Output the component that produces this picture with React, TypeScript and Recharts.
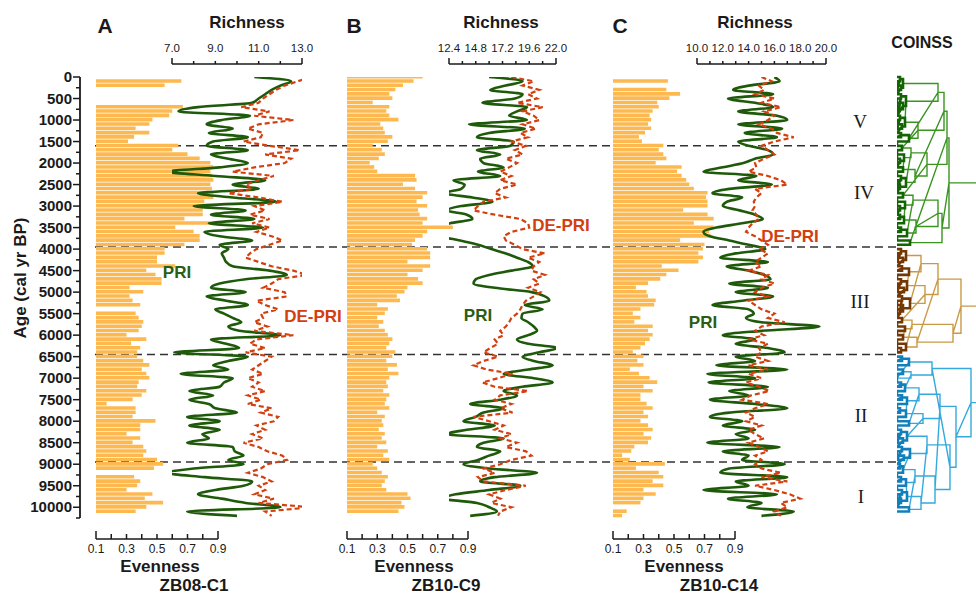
import React from 'react';
import { ComposedChart, Bar, Line, XAxis, YAxis, ReferenceLine } from 'recharts';

// sample ages (cal yr BP), one row every 100 years
const ages = [
  0, 100, 200, 300, 400, 500, 600, 700, 800, 900,
  1000, 1100, 1200, 1300, 1400, 1500, 1600, 1700, 1800, 1900,
  2000, 2100, 2200, 2300, 2400, 2500, 2600, 2700, 2800, 2900,
  3000, 3100, 3200, 3300, 3400, 3500, 3600, 3700, 3800, 3900,
  4000, 4100, 4200, 4300, 4400, 4500, 4600, 4700, 4800, 4900,
  5000, 5100, 5200, 5300, 5400, 5500, 5600, 5700, 5800, 5900,
  6000, 6100, 6200, 6300, 6400, 6500, 6600, 6700, 6800, 6900,
  7000, 7100, 7200, 7300, 7400, 7500, 7600, 7700, 7800, 7900,
  8000, 8100, 8200, 8300, 8400, 8500, 8600, 8700, 8800, 8900,
  9000, 9100, 9200, 9300, 9400, 9500, 9600, 9700, 9800, 9900,
  10000, 10100, 10200,
];

// ZB08-C1
const evA = [
  null, 0.66, 0.55, null, null, null, null, 0.67, 0.6, 0.58,
  0.47, 0.45, 0.36, 0.45, 0.35, 0.31, 0.64, 0.6, 0.7, 0.78,
  0.85, 0.87, 0.85, 0.86, 0.87, 0.85, 0.86, 0.87, 0.87, 0.81,
  0.81, 0.8, 0.8, 0.68, 0.85, 0.62, 0.74, 0.78, 0.78, 0.68,
  0.55, 0.55, 0.5, 0.5, 0.62, 0.43, 0.49, 0.53, 0.53, 0.32,
  0.41, 0.32, 0.34, 0.39, null, 0.36, 0.38, 0.41, 0.4, 0.38,
  0.3, 0.43, 0.33, 0.39, 0.37, 0.37, 0.41, 0.45, 0.4, 0.43,
  0.45, 0.38, 0.37, 0.43, 0.4, 0.34, 0.17, 0.36, 0.36, 0.34,
  0.49, 0.39, 0.39, 0.3, 0.39, 0.34, 0.41, 0.43, 0.41, 0.5,
  0.54, 0.48, null, 0.35, 0.39, 0.37, 0.3, 0.47, 0.42, 0.54,
  0.43, 0.36, null,
];
const priA = [
  10.8, 12.5, 12.0, 11.6, 11.3, 11.0, 10.7, 8.2, 7.3, 10.6,
  9.3, 8.6, 9.8, 8.7, 10.5, 8.9, 8.6, 10.5, 8.8, 9.6,
  10.5, 9.2, 6.8, 9.0, 11.3, 9.8, 11.0, 8.2, 9.8, 11.8,
  8.0, 10.4, 8.8, 10.8, 8.7, 11.2, 8.5, 9.2, 10.7, 9.2,
  9.6, 9.3, 9.4, 9.5, 9.8, 11.5, 12.3, 10.4, 9.2, 8.8,
  10.4, 8.6, 9.5, 10.5, 9.0, 9.4, 9.8, 10.2, 9.6, 10.1,
  12.0, 8.8, 9.5, 10.1, 7.1, 10.5, 9.6, 8.9, 9.6, 7.4,
  9.8, 9.4, 9.2, 7.8, 8.9, 7.8, 8.7, 9.0, 10.0, 7.7,
  9.2, 7.8, 9.2, 8.4, 8.7, 7.7, 9.8, 9.9, 10.3, 9.6,
  10.3, 8.0, 6.8, 8.5, 10.7, 10.3, 9.0, 8.2, 9.3, 10.4,
  12.0, 7.7, 10.0,
];
const deA = [
  13.4, 12.8, 12.2, 11.8, 11.5, 11.2, 11.0, 10.2, 11.5, 10.8,
  12.6, 11.0, 10.5, 11.2, 11.1, 10.3, 11.5, 12.9, 11.3, 12.5,
  12.2, 10.8, 9.8, 11.7, 11.0, 10.4, 10.7, 9.6, 11.0, 12.1,
  10.8, 11.3, 10.6, 11.5, 10.7, 11.5, 10.9, 11.6, 12.1, 11.5,
  10.9, 10.6, 10.4, 11.0, 11.6, 12.6, 13.2, 11.9, 11.6, 11.2,
  12.2, 12.3, 10.9, 11.3, 11.9, 11.1, 11.2, 10.8, 11.4, 10.8,
  12.6, 10.9, 10.6, 11.3, 10.4, 11.6, 11.3, 11.0, 10.7, 11.2,
  10.5, 11.0, 10.7, 11.3, 10.5, 11.1, 10.5, 11.6, 11.1, 11.9,
  11.7, 10.9, 11.3, 10.7, 11.2, 10.3, 11.0, 11.4, 12.1, 12.3,
  11.4, 11.1, 10.5, 11.2, 11.6, 11.0, 11.3, 10.8, 11.7, 11.0,
  13.4, 11.3, 11.6,
];

// ZB10-C9
const evB = [
  0.6, 0.54, 0.47, 0.42, 0.38, 0.4, 0.27, 0.38, 0.36, 0.38,
  0.44, 0.32, 0.34, 0.35, 0.4, 0.37, 0.27, 0.33, 0.35, 0.31,
  0.25, 0.28, 0.3, 0.55, 0.56, 0.47, 0.55, 0.63, 0.6, 0.56,
  0.63, 0.57, 0.58, 0.63, 0.6, 0.8, 0.63, 0.6, 0.55, 0.53,
  0.63, 0.65, 0.65, 0.5, 0.65, 0.6, 0.5, 0.57, 0.6, 0.5,
  0.48, 0.43, 0.45, 0.3, 0.37, 0.35, 0.3, 0.34, 0.31, 0.35,
  0.37, 0.4, 0.38, 0.36, 0.42, 0.4, 0.36, 0.43, 0.37, 0.44,
  0.38, 0.36, 0.37, 0.34, 0.38, 0.36, 0.35, 0.38, 0.3, 0.35,
  0.33, 0.34, 0.31, 0.35, 0.33, 0.36, 0.3, 0.37, 0.34, 0.38,
  0.27, 0.3, 0.33, 0.37, 0.35, 0.33, 0.36, 0.5, 0.52, 0.46,
  0.48, 0.44, null,
];
const priB = [
  16.0, 19.0, 17.5, 16.1, 19.0, 18.3, 15.4, 19.4, 18.5, 17.8,
  19.4, 14.2, 19.2, 16.0, 14.9, 18.2, 17.9, 14.9, 17.0, 15.2,
  15.5, 17.3, 15.0, 17.0, 12.8, 13.8, 13.5, 12.0, 14.5, 16.3,
  13.5, 12.2, 14.0, 14.5, 12.5, 11.2, 10.7, 11.5, 13.4, 15.0,
  16.2, 17.5, 18.5, 19.5, 19.9, 18.0, 16.0, 14.8, 14.6, 16.5,
  19.8, 21.0, 21.4, 19.2, 20.8, 19.0, 18.9, 19.5, 20.0, 20.3,
  19.5, 18.5, 19.5, 22.1, 20.5, 19.0, 20.0, 21.7, 19.5, 17.3,
  20.0, 21.7, 19.0, 17.3, 18.5, 17.0, 14.3, 17.3, 15.5, 14.8,
  13.7, 16.5, 14.0, 12.2, 17.3, 15.5, 14.9, 17.0, 16.0, 15.0,
  13.7, 16.0, 20.3, 16.5, 15.2, 18.8, 16.0, 13.0, 11.9, 14.9,
  16.0, 16.7, 14.3,
];
const deB = [
  18.0, 20.0, 19.0, 20.5, 19.5, 20.3, 18.5, 20.8, 19.0, 20.0,
  20.5, 19.0, 20.2, 18.8, 19.5, 18.0, 19.3, 18.3, 19.0, 17.5,
  18.5, 17.8, 17.0, 18.0, 17.0, 18.5, 17.0, 16.5, 17.5, 15.5,
  15.0, 14.6, 16.5, 18.8, 19.5, 19.6, 18.0, 17.3, 17.5, 18.3,
  19.0, 21.0, 19.5, 20.5, 20.0, 19.8, 21.0, 20.0, 20.5, 19.5,
  20.6, 20.0, 19.3, 19.0, 18.8, 18.5, 18.0, 17.8, 17.5, 17.0,
  17.3, 16.5, 16.8, 16.1, 15.5, 16.8, 15.5, 14.6, 15.8, 18.1,
  16.8, 15.4, 16.5, 19.5, 17.0, 16.5, 18.0, 17.0, 18.1, 14.6,
  16.0, 17.3, 16.5, 18.0, 17.0, 18.5, 17.5, 19.3, 19.8, 18.0,
  17.0, 15.5, 16.5, 15.0, 15.5, 19.3, 17.5, 16.0, 17.0, 16.2,
  18.0, 17.0, 16.8,
];

// ZB10-C14
const evC = [
  null, 0.46, null, 0.45, 0.54, 0.47, 0.39, 0.4, 0.36, 0.34,
  0.35, 0.33, 0.35, 0.31, 0.27, 0.29, 0.43, 0.4, 0.43, 0.45,
  0.38, 0.55, 0.52, 0.55, 0.58, 0.6, 0.63, 0.72, 0.71, 0.72,
  0.72, 0.56, 0.72, 0.76, 0.63, 0.76, 0.73, 0.74, 0.54, 0.7,
  0.69, 0.66, 0.69, 0.66, 0.42, 0.53, 0.45, 0.41, 0.33, 0.25,
  0.32, 0.33, 0.38, 0.37, 0.28, 0.23, 0.28, 0.24, 0.36, 0.33,
  0.36, 0.34, 0.31, 0.28, 0.23, 0.3, 0.26, 0.3, 0.21, 0.27,
  0.34, 0.39, 0.3, 0.36, 0.28, 0.28, 0.32, 0.36, 0.3, 0.33,
  0.28, 0.33, 0.36, 0.3, 0.35, 0.33, 0.24, 0.22, 0.16, 0.21,
  0.44, 0.25, 0.4, 0.43, 0.36, 0.43, 0.3, 0.38, 0.3, 0.28,
  null, 0.19, 0.16,
];
const priC = [
  16.0, 16.4, 14.0, 12.8, 15.9, 12.4, 14.5, 15.9, 13.2, 16.2,
  17.0, 13.2, 16.6, 13.7, 16.2, 13.2, 14.0, 15.5, 15.9, 14.5,
  13.6, 12.0, 10.5, 14.6, 13.2, 15.8, 12.5, 11.2, 13.5, 12.3,
  12.0, 13.3, 14.5, 15.1, 13.5, 11.5, 10.5, 11.0, 12.5, 14.0,
  15.3, 13.0, 11.8, 15.5, 12.3, 14.0, 15.2, 15.7, 12.5, 15.5,
  13.0, 15.9, 13.5, 11.2, 14.0, 14.4, 13.8, 15.0, 19.5, 15.0,
  12.0, 14.5, 13.0, 15.5, 16.8, 13.0, 14.5, 11.5, 17.0, 10.8,
  14.5, 10.9, 15.5, 12.5, 14.0, 11.0, 14.5, 17.0, 12.5, 11.0,
  13.5, 12.0, 14.5, 13.0, 14.0, 10.8, 16.4, 12.0, 14.0, 13.5,
  16.8, 12.5, 11.8, 17.0, 13.0, 14.0, 10.5, 16.2, 12.4, 15.0,
  13.9, 17.5, 15.0,
];
const deC = [
  15.0, 15.8, 14.8, 15.2, 14.5, 16.0, 15.0, 16.5, 15.2, 16.0,
  15.5, 14.8, 15.8, 16.2, 17.5, 16.0, 15.0, 15.5, 16.0, 15.2,
  14.5, 14.6, 14.0, 15.5, 16.5, 17.0, 14.5, 15.0, 14.6, 14.4,
  14.5, 14.3, 14.6, 14.8, 14.3, 14.0, 13.8, 14.5, 15.0, 15.5,
  14.8, 15.5, 15.0, 14.5, 15.0, 14.0, 15.5, 15.0, 16.0, 15.0,
  14.5, 15.5, 14.0, 14.5, 15.0, 16.0, 15.5, 16.8, 15.0, 14.5,
  15.2, 14.0, 15.5, 14.8, 15.0, 14.5, 15.5, 14.0, 15.5, 14.0,
  15.0, 13.8, 14.8, 15.6, 14.2, 13.5, 15.5, 14.5, 13.8, 14.5,
  13.8, 15.0, 14.0, 14.5, 15.2, 14.0, 14.8, 15.5, 14.5, 15.0,
  14.5, 15.0, 16.5, 15.0, 17.0, 14.5, 16.0, 17.2, 18.0, 16.5,
  17.0, 16.0, 16.5,
];

const ageTicks = [
  0, 250, 500, 750, 1000, 1250, 1500, 1750, 2000, 2250, 2500, 2750, 3000, 3250,
  3500, 3750, 4000, 4250, 4500, 4750, 5000, 5250, 5500, 5750, 6000, 6250, 6500,
  6750, 7000, 7250, 7500, 7750, 8000, 8250, 8500, 8750, 9000, 9250, 9500, 9750,
  10000, 10250,
];
const evenTicks = [0.1, 0.2, 0.3, 0.4, 0.5, 0.6, 0.7, 0.8, 0.9];
const evenLabels = [0.1, 0.3, 0.5, 0.7, 0.9];
const richTicksA = [7, 8, 9, 10, 11, 12, 13];
const richLabelsA = [7, 9, 11, 13];
const richTicksB = [12.4, 13.6, 14.8, 16, 17.2, 18.4, 19.6, 20.8, 22];
const richLabelsB = [12.4, 14.8, 17.2, 19.6, 22];
const richTicksC = [10, 11, 12, 13, 14, 15, 16, 17, 18, 19, 20];
const richLabelsC = [10, 12, 14, 16, 18, 20];

// zone boundaries (CONISS)
const zoneBreaks = [1600, 3950, 6450, 8950];
const zoneSpan = [{ age: 0, v: 0 }, { age: 10250, v: 1 }];

// CONISS dendrogram: [merge height, child, child], leaves are sample ages
type Node = number | [number, Node, Node];
const greenTree: Node = [52,
  [50,
    [47,
      [41, [6, [3, 0, 100], [4, 200, 300]], [9, [4, 400, 500], [6, 600, [2, 700, 800]]]],
      [21, [8, [3, 900, 1000], [5, 1100, 1200]], [12, [4, 1300, 1400], 1500]],
    ],
    [30,
      [14, [5, 1600, 1700], [7, 1800, [3, 1900, 2000]]],
      [18, [6, 2100, 2200], [9, [4, 2300, 2400], [3, 2500, 2600]]],
    ],
  ],
  [45,
    [41,
      [16, [6, 2700, 2800], [8, 2900, [3, 3000, 3100]]],
      [19, [7, [3, 3200, 3300], 3400], [10, [4, 3500, 3600], 3700]],
    ],
    [13, 3800, 3900],
  ],
];
const brownTree: Node = [64,
  [41,
    [24, [9, [4, 4000, 4100], [6, 4200, 4300]], [12, [5, 4400, 4500], 4600]],
    [28, [10, [4, 4700, 4800], [7, 4900, 5000]], [13, [5, 5100, 5200], [6, 5300, [3, 5400, 5500]]]],
  ],
  [56,
    [15, [5, 5600, 5700], [8, 5800, 5900]],
    [20, [6, 6000, 6100], [9, 6200, [4, 6300, 6400]]],
  ],
];
const blueTree: Node = [74,
  [35, [12, [5, 6500, 6600], 6700], [14, [6, 6800, 6900], 7000]],
  [59,
    [43,
      [22, [8, [4, 7100, 7200], 7300], [10, [5, 7400, 7500], 7600]],
      [26, [9, [3, 7700, 7800], 7900], [12, 8000, 8100]],
    ],
    [53,
      [30, [10, [4, 8200, 8300], [6, 8400, 8500]], [13, [5, 8600, 8700], [7, 8800, 8900]]],
      [38,
        [18, [6, [3, 9000, 9100], 9200], [9, [4, 9300, 9400], 9500]],
        [24, [10, [5, 9600, 9700], [4, 9800, 9900]], [12, 10000, 10100]],
      ],
    ],
  ],
];

const FONT = '"Liberation Sans", Arial, Helvetica, sans-serif';
const INK = '#1a1a1a';
const BAR = '#fdb94f';
const PRI_COL = '#1f5a0b';
const DE_COL = '#d2400f';

type Row = { age: number; ev: number | null; pri: number; de: number };
const rows = (ev: (number | null)[], pri: number[], de: number[]): Row[] =>
  ages.map((age, i) => ({ age, ev: ev[i], pri: pri[i], de: de[i] }));

type PanelCfg = {
  left: number; width: number; plotL: number; plotR: number;
  evL: number; evR: number; rL: number; rR: number;
  rDomain: [number, number]; rTicks: number[]; rLabels: number[];
  showAge: boolean; data: Row[];
};

const near = (a: number, b: number) => Math.abs(a - b) < 1e-6;

const ageTick = (p: any) => {
  const v = p.payload.value;
  const major = v % 500 === 0 && v <= 10000;
  return (
    <g>
      <line x1={p.x - (major ? 7 : 4)} x2={p.x} y1={p.y} y2={p.y} stroke={INK} strokeWidth={1.5} />
      {major && (
        <text x={p.x - 8} y={p.y + 5} textAnchor="end" fontSize={15} fontWeight="bold" fill={INK} fontFamily={FONT}>
          {v}
        </text>
      )}
    </g>
  );
};

const evTick = (p: any, cfg: PanelCfg) => {
  const v = p.payload.value;
  const ly = p.y + 21;
  const end = near(v, 0.1) || near(v, 0.9);
  return (
    <g>
      {near(v, 0.1) && <line x1={p.x} x2={p.x + cfg.evR - cfg.evL} y1={ly} y2={ly} stroke={INK} strokeWidth={1.5} />}
      <line x1={p.x} x2={p.x} y1={ly} y2={ly - (end ? 8 : 5)} stroke={INK} strokeWidth={1.5} />
      {evenLabels.some((l) => near(l, v)) && (
        <text x={p.x} y={ly + 14} textAnchor="middle" fontSize={12} fill={INK} fontFamily={FONT}>
          {v.toFixed(1)}
        </text>
      )}
    </g>
  );
};

const richTick = (p: any, cfg: PanelCfg) => {
  const v = p.payload.value;
  const ly = p.y - 13;
  const first = near(v, cfg.rDomain[0]);
  const end = first || near(v, cfg.rDomain[1]);
  return (
    <g>
      {first && <line x1={p.x} x2={p.x + cfg.rR - cfg.rL} y1={ly} y2={ly} stroke={INK} strokeWidth={1.5} />}
      <line x1={p.x} x2={p.x} y1={ly} y2={ly - (end ? 6 : 3)} stroke={INK} strokeWidth={1.5} />
      {cfg.rLabels.some((l) => near(l, v)) && (
        <text x={p.x} y={ly - 12} textAnchor="middle" fontSize={11.5} fill={INK} fontFamily={FONT}>
          {v.toFixed(1)}
        </text>
      )}
    </g>
  );
};

const Panel = ({ cfg }: { cfg: PanelCfg }) => {
  const yW = cfg.showAge ? 80 : 0;
  return (
    <div style={{ position: 'absolute', left: cfg.left, top: 0 }}>
      <ComposedChart
        width={cfg.width}
        height={594}
        data={cfg.data}
        layout="vertical"
        margin={{ top: 57, bottom: 56, left: cfg.plotL - cfg.left - yW, right: cfg.left + cfg.width - cfg.plotR }}
      >
        <YAxis
          type="number"
          dataKey="age"
          domain={[0, 10250]}
          allowDataOverflow
          hide={!cfg.showAge}
          width={80}
          ticks={ageTicks}
          interval={0}
          tickSize={0}
          tickMargin={0}
          tickLine={false}
          tick={ageTick}
          axisLine={{ stroke: INK, strokeWidth: 1.8 }}
        />
        <XAxis
          xAxisId="ev"
          orientation="bottom"
          type="number"
          domain={[0.1, 0.9]}
          allowDataOverflow
          height={20}
          padding={{ left: cfg.evL - cfg.plotL, right: cfg.plotR - cfg.evR }}
          ticks={evenTicks}
          interval={0}
          axisLine={false}
          tickLine={false}
          tickSize={0}
          tickMargin={0}
          tick={(p: any) => evTick(p, cfg)}
        />
        <XAxis
          xAxisId="r"
          orientation="top"
          type="number"
          domain={cfg.rDomain}
          allowDataOverflow
          height={20}
          padding={{ left: cfg.rL - cfg.plotL, right: cfg.plotR - cfg.rR }}
          ticks={cfg.rTicks}
          interval={0}
          axisLine={false}
          tickLine={false}
          tickSize={0}
          tickMargin={0}
          tick={(p: any) => richTick(p, cfg)}
        />
        <Bar xAxisId="ev" dataKey="ev" fill={BAR} barSize={3.6} isAnimationActive={false} />
        <Line xAxisId="r" dataKey="pri" type="monotone" stroke={PRI_COL} strokeWidth={2.6} dot={false} isAnimationActive={false} />
        <Line xAxisId="r" dataKey="de" type="linear" stroke={DE_COL} strokeWidth={2.2} strokeDasharray="5 3" dot={false} isAnimationActive={false} />
      </ComposedChart>
    </div>
  );
};

const panels: PanelCfg[] = [
  { left: 0, width: 345, plotL: 80, plotR: 330, evL: 96, evR: 218, rL: 172, rR: 302,
    rDomain: [7, 13], rTicks: richTicksA, rLabels: richLabelsA, showAge: true, data: rows(evA, priA, deA) },
  { left: 335, width: 260, plotL: 340, plotR: 580, evL: 347, evR: 468, rL: 449, rR: 556,
    rDomain: [12.4, 22], rTicks: richTicksB, rLabels: richLabelsB, showAge: false, data: rows(evB, priB, deB) },
  { left: 600, width: 260, plotL: 605, plotR: 845, evL: 613, evR: 735, rL: 697, rR: 826,
    rDomain: [10, 20], rTicks: richTicksC, rLabels: richLabelsC, showAge: false, data: rows(evC, priC, deC) },
];

type DPt = { age: number; h: number | null };
const layoutTree = (node: Node, inner: DPt[], outer: DPt[]): { pos: number; h: number } => {
  if (typeof node === 'number') return { pos: node, h: 0 };
  const [h, a, b] = node;
  const A = layoutTree(a, inner, outer);
  const B = layoutTree(b, inner, outer);
  const out = h < 14 ? inner : outer;
  out.push(
    { age: A.pos, h: A.h }, { age: A.pos, h }, { age: B.pos, h }, { age: B.pos, h: B.h }, { age: B.pos, h: null },
  );
  return { pos: (A.pos + B.pos) / 2, h };
};

const dendro = [
  { tree: greenTree, dark: '#136503', light: '#3a9420' },
  { tree: brownTree, dark: '#743804', light: '#c99a45' },
  { tree: blueTree, dark: '#127fba', light: '#35a9dd' },
].map((c) => {
  const inner: DPt[] = [];
  const outer: DPt[] = [];
  const root = layoutTree(c.tree, inner, outer);
  outer.push({ age: root.pos, h: root.h }, { age: root.pos, h: 95 });
  return { ...c, inner, outer };
});

const Txt = ({ x, y, children, style }: { x: number; y: number; children: React.ReactNode; style?: React.CSSProperties }) => (
  <div
    style={{
      position: 'absolute', left: x, top: y, transform: 'translate(-50%, -50%)', whiteSpace: 'nowrap',
      lineHeight: 1, fontFamily: FONT, fontWeight: 'bold', fontSize: 17, color: INK, ...style,
    }}
  >
    {children}
  </div>
);

const ROMAN: React.CSSProperties = { fontFamily: '"Liberation Serif", "DejaVu Serif", serif', fontWeight: 'normal', fontSize: 19 };

export default function App() {
  return (
    <div style={{ position: 'relative', width: 976, height: 594, background: '#fff', overflow: 'hidden', fontFamily: FONT }}>
      <style>{'body{margin:0}'}</style>

      {/* zone boundaries */}
      <div style={{ position: 'absolute', left: 0, top: 0 }}>
        <ComposedChart width={976} height={594} layout="vertical" data={zoneSpan}
          margin={{ top: 77, bottom: 76, left: 95, right: 976 - 897 }}>
          <YAxis type="number" dataKey="age" domain={[0, 10250]} hide />
          <XAxis type="number" domain={[0, 1]} hide />
          <Line dataKey="v" stroke="none" dot={false} isAnimationActive={false} />
          {zoneBreaks.map((b) => (
            <ReferenceLine key={b} y={b} stroke="#333" strokeWidth={1.5} strokeDasharray="8 5" />
          ))}
        </ComposedChart>
      </div>

      {panels.map((cfg, i) => (
        <Panel key={i} cfg={cfg} />
      ))}

      {/* CONISS dendrogram */}
      <div style={{ position: 'absolute', left: 890, top: 0 }}>
        <ComposedChart width={86} height={594} layout="vertical" margin={{ top: 77, bottom: 76, left: 7, right: 0 }}>
          <YAxis type="number" dataKey="age" domain={[0, 10250]} hide />
          <XAxis type="number" domain={[0, 79]} allowDataOverflow hide />
          {dendro.map((c, i) => (
            <Line key={'o' + i} data={c.outer} dataKey="h" type="linear" stroke={c.light} strokeWidth={1.4}
              dot={false} isAnimationActive={false} />
          ))}
          {dendro.map((c, i) => (
            <Line key={'i' + i} data={c.inner} dataKey="h" type="linear" stroke={c.dark} strokeWidth={2.6}
              dot={false} isAnimationActive={false} />
          ))}
        </ComposedChart>
      </div>

      <Txt x={105} y={25} style={{ fontSize: 21 }}>A</Txt>
      <Txt x={354} y={25} style={{ fontSize: 21 }}>B</Txt>
      <Txt x={620} y={25} style={{ fontSize: 21 }}>C</Txt>
      <Txt x={247} y={22}>Richness</Txt>
      <Txt x={501} y={22}>Richness</Txt>
      <Txt x={755} y={22}>Richness</Txt>
      <Txt x={922} y={43} style={{ fontSize: 16 }}>COINSS</Txt>
      <Txt x={20} y={278} style={{ transform: 'translate(-50%, -50%) rotate(-90deg)' }}>Age (cal yr BP)</Txt>

      <Txt x={160} y={566}>Evenness</Txt>
      <Txt x={414} y={566}>Evenness</Txt>
      <Txt x={684} y={566}>Evenness</Txt>
      <Txt x={194} y={585}>ZB08-C1</Txt>
      <Txt x={446} y={585}>ZB10-C9</Txt>
      <Txt x={719} y={585}>ZB10-C14</Txt>

      <Txt x={177} y={272} style={{ color: '#2b5e12' }}>PRI</Txt>
      <Txt x={313} y={316} style={{ color: DE_COL }}>DE-PRI</Txt>
      <Txt x={478} y={315} style={{ color: '#2b5e12' }}>PRI</Txt>
      <Txt x={561} y={225} style={{ color: DE_COL }}>DE-PRI</Txt>
      <Txt x={703} y={322} style={{ color: '#2b5e12' }}>PRI</Txt>
      <Txt x={790} y={236} style={{ color: DE_COL }}>DE-PRI</Txt>

      <Txt x={860} y={121} style={ROMAN}>V</Txt>
      <Txt x={864} y={192} style={ROMAN}>IV</Txt>
      <Txt x={860} y={301} style={ROMAN}>III</Txt>
      <Txt x={861} y={415} style={ROMAN}>II</Txt>
      <Txt x={861} y={496} style={ROMAN}>I</Txt>
    </div>
  );
}
